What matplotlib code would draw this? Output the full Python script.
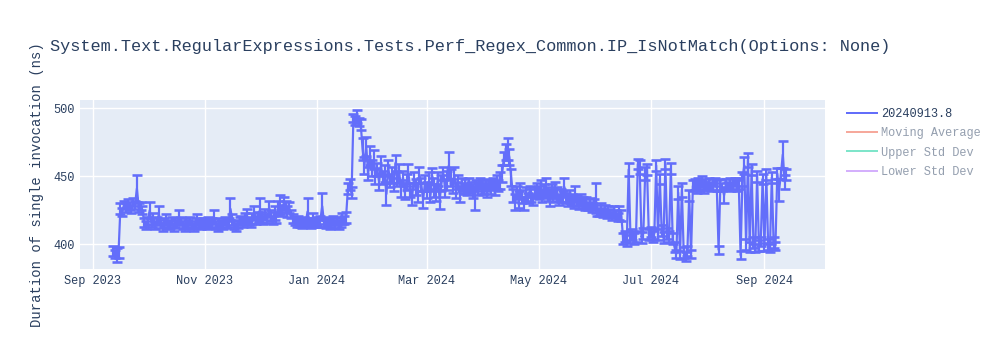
import matplotlib
matplotlib.use("Agg")
import matplotlib.pyplot as plt
import matplotlib.dates as mdates
from matplotlib.lines import Line2D
import pandas as pd

title = "System.Text.RegularExpressions.Tests.Perf_Regex_Common.IP_IsNotMatch(Options: None)"
y_label = "Duration of single invocation (ns)"
legend_names = ["20240913.8", "Moving Average", "Upper Std Dev", "Lower Std Dev"]

start_date = "2023-09-12"

# daily mean duration (ns)
sep23 = [395, 393, 392, 394, 426, 424, 429, 427, 430, 428, 426, 431, 429, 441, 427, 428, 425, 416, 414]
oct23 = [417, 425, 416, 419, 414, 417, 422, 415, 413, 416, 418, 414, 415, 417, 413, 416,
         415, 420, 417, 414, 413, 416, 415, 417, 414, 413, 416, 418, 415, 414, 416]
nov23 = [416, 414, 417, 415, 416, 420, 414, 413, 416, 415, 414, 417, 415, 416, 426,
         418, 414, 413, 415, 417, 418, 416, 419, 421, 417, 416, 419, 423, 418, 420]
dec23 = [425, 420, 418, 422, 419, 426, 421, 418, 423, 420, 427, 429, 425, 430, 428, 424,
         427, 422, 419, 417, 416, 418, 416, 415, 417, 416, 424, 416, 415, 418, 416]
jan24 = [417, 416, 418, 428, 416, 415, 417, 414, 416, 418, 415, 417, 414, 416, 419, 418,
         420, 441, 444, 438, 493, 491, 494, 490, 488, 470, 458, 472, 452, 465, 456]
feb24 = [462, 450, 455, 446, 458, 449, 452, 437, 456, 447, 451, 444, 460, 448, 452,
         441, 449, 438, 446, 452, 440, 435, 448, 442, 438, 451, 444, 433, 445]
mar24 = [440, 446, 436, 450, 442, 438, 448, 433, 445, 452, 441, 447, 458, 449, 443, 451,
         440, 446, 437, 444, 441, 443, 440, 444, 442, 439, 434, 443, 441, 445, 442]
apr24 = [441, 443, 440, 444, 442, 445, 441, 446, 443, 447, 452, 463, 468, 470, 464,
         449, 436, 431, 438, 433, 440, 435, 430, 437, 434, 439, 436, 433, 438, 440]
may24 = [438, 441, 436, 439, 442, 437, 434, 439, 436, 440, 437, 433, 436, 435, 442, 434,
         432, 435, 433, 431, 437, 432, 430, 433, 431, 429, 431, 428, 430, 427, 429]
jun24 = [434, 425, 424, 426, 423, 425, 422, 424, 423, 421, 424, 422, 420, 423, 421,
         404, 406, 403, 455, 405, 407, 404, 406, 459, 457, 405, 408, 452, 455, 407]
jul24 = [409, 406, 408, 458, 407, 448, 410, 405, 459, 408, 406, 456, 404, 398, 393, 438,
         392, 440, 394, 391, 395, 436, 393, 443, 444, 442, 445, 443, 446, 442, 444]
aug24 = [443, 445, 442, 444, 446, 443, 396, 444, 442, 436, 444, 443, 445, 442, 444, 446,
         443, 445, 392, 448, 458, 400, 462, 398, 455, 401, 397, 450, 399, 402, 448]
sep24 = [398, 451, 400, 397, 449, 401, 399, 452, 440, 452, 466, 446, 451]

# daily standard deviation (ns), drawn as symmetric error bars
sep23_err = [4, 3, 5, 4, 4, 3, 3, 3, 3, 3, 3, 3, 3, 10, 3, 3, 3, 3, 3]
oct23_err = [3, 6, 3, 4, 3, 3, 6, 3, 3, 3, 4, 3, 3, 3, 3, 3,
             3, 5, 3, 3, 3, 3, 3, 3, 3, 3, 3, 4, 3, 3, 3]
nov23_err = [3, 3, 3, 3, 3, 5, 3, 3, 3, 3, 3, 3, 3, 3, 8,
             4, 3, 3, 3, 3, 3, 3, 4, 5, 3, 3, 4, 5, 3, 4]
dec23_err = [9, 4, 3, 4, 3, 6, 4, 3, 5, 4, 5, 7, 4, 5, 4, 4,
             4, 3, 3, 3, 3, 3, 3, 3, 3, 3, 10, 3, 3, 5, 3]
jan24_err = [3, 3, 3, 10, 3, 3, 3, 3, 3, 3, 3, 3, 3, 3, 4, 3,
             4, 4, 4, 4, 3, 3, 5, 3, 4, 8, 6, 7, 5, 7, 6]
feb24_err = [7, 6, 5, 6, 7, 5, 6, 8, 6, 5, 6, 5, 6, 5, 7,
             6, 5, 5, 6, 7, 5, 6, 5, 6, 7, 6, 5, 6, 6]
mar24_err = [6, 7, 5, 6, 7, 6, 5, 7, 6, 5, 6, 7, 10, 6, 5, 6,
             6, 5, 6, 5, 4, 5, 4, 5, 4, 5, 9, 4, 5, 4, 5]
apr24_err = [4, 4, 5, 4, 5, 4, 5, 5, 4, 6, 6, 5, 6, 8, 6,
             6, 5, 6, 5, 6, 5, 5, 5, 5, 4, 4, 5, 4, 4, 5]
may24_err = [5, 6, 5, 5, 7, 5, 6, 5, 5, 6, 5, 4, 5, 4, 7, 4,
             4, 5, 4, 4, 6, 4, 4, 4, 4, 4, 4, 3, 4, 3, 4]
jun24_err = [11, 4, 3, 4, 3, 4, 3, 4, 3, 3, 4, 3, 3, 5, 4,
             4, 4, 4, 5, 4, 4, 4, 4, 4, 5, 4, 4, 5, 4, 4]
jul24_err = [4, 4, 4, 4, 4, 4, 4, 4, 4, 4, 4, 4, 4, 4, 3, 5,
             3, 5, 4, 3, 4, 4, 3, 4, 4, 4, 4, 4, 4, 4, 4]
aug24_err = [3, 4, 3, 4, 3, 4, 3, 4, 3, 6, 4, 3, 4, 3, 4, 3,
             4, 4, 3, 5, 6, 4, 5, 4, 4, 4, 3, 4, 4, 3, 4]
sep24_err = [3, 4, 4, 3, 4, 4, 3, 4, 8, 4, 10, 5, 4]

duration_ns = (sep23 + oct23 + nov23 + dec23 + jan24 + feb24 + mar24 + apr24
               + may24 + jun24 + jul24 + aug24 + sep24)
std_ns = (sep23_err + oct23_err + nov23_err + dec23_err + jan24_err + feb24_err
          + mar24_err + apr24_err + may24_err + jun24_err + jul24_err + aug24_err
          + sep24_err)

dates = pd.date_range(start_date, periods=len(duration_ns), freq="D")

FONT = ["Liberation Mono", "DejaVu Sans Mono"]
plt.rcParams["font.family"] = FONT
TXT = "#2a3f5f"
BLUE = "#636efa"
px = 72 / 100.0  # points per pixel at dpi 100

fig = plt.figure(figsize=(10, 3.5), dpi=100)
ax = fig.add_axes([0.080, 1 - 269 / 350, 0.745, 169 / 350])
ax.set_facecolor("#E5ECF6")

ax.errorbar(dates, duration_ns, yerr=std_ns, color=BLUE,
            lw=2.2 * px, elinewidth=2.2 * px, capsize=5 * px,
            capthick=2.6 * px, ecolor=BLUE, zorder=3)

ax.set_xlim(pd.Timestamp("2023-08-25"), pd.Timestamp("2024-10-04"))
ax.set_ylim(381.8, 506.1)
ax.set_yticks([400, 450, 500])
ax.xaxis.set_major_locator(mdates.MonthLocator(bymonth=[1, 3, 5, 7, 9, 11]))
ax.xaxis.set_major_formatter(mdates.DateFormatter("%b %Y"))
ax.grid(True, color="white", lw=1.0)
ax.set_axisbelow(True)
for s in ax.spines.values():
    s.set_visible(False)
ax.tick_params(length=0, labelsize=8.6, colors=TXT, pad=4)

fig.text(0.050, 1 - 46 / 350, title, fontsize=12.2, color=TXT,
         va="center", ha="left")
fig.text(0.037, 1 - 185 / 350, y_label, fontsize=10, color=TXT,
         rotation=90, va="center", ha="center")

handles = [
    Line2D([], [], color=BLUE, lw=2 * px),
    Line2D([], [], color="#EF553B", lw=2 * px, alpha=0.5),
    Line2D([], [], color="#00cc96", lw=2 * px, alpha=0.5),
    Line2D([], [], color="#ab63fa", lw=2 * px, alpha=0.5),
]
leg = fig.legend(handles, legend_names, loc="upper left",
                 bbox_to_anchor=(0.842, 1 - 103 / 350), frameon=False,
                 prop={"family": FONT, "size": 8.6}, handlelength=2.5,
                 handletextpad=0.4, labelspacing=0.62, borderaxespad=0)
for i, t in enumerate(leg.get_texts()):
    t.set_color(TXT)
    if i > 0:
        t.set_alpha(0.5)

fig.savefig("out.png", dpi=100)
